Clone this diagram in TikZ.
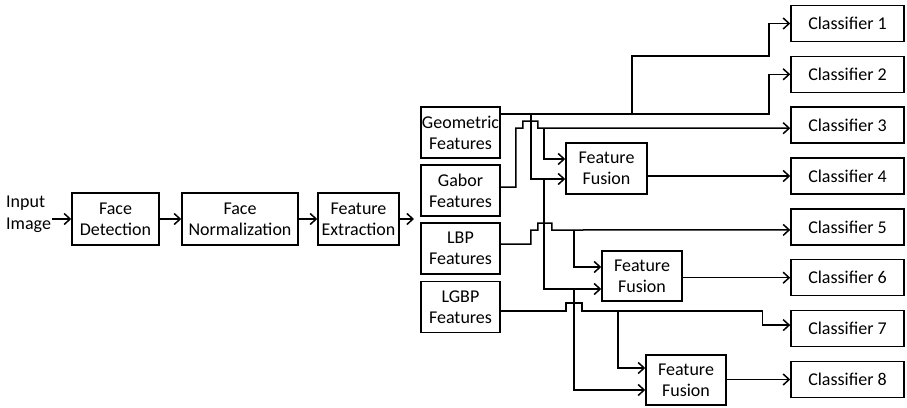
\documentclass[tikz,border=0pt]{standalone}
\usepackage{fontspec}
\setmainfont{Carlito}
\usepackage{tikz}
\usetikzlibrary{arrows.meta, positioning, calc}

\tikzset{
  block/.style={
    draw, line width=1.5pt, inner sep=0pt,
    minimum height=51pt, align=center,
    font=\fontsize{18}{21}\selectfont
  },
  stagebox/.style={block, minimum height=52pt},
  featbox/.style ={block, minimum width=79pt},
  fusebox/.style ={block, minimum width=80pt, minimum height=50pt},
  clsbox/.style  ={block, minimum width=113pt, minimum height=36pt},
  conn/.style={
    -{Straight Barb[length=6pt,width=11pt]},
    line width=1.5pt
  }
}

\begin{document}
\begin{tikzpicture}[x=1pt, y=-1pt]
  \useasboundingbox (0,0) rectangle (907,407);
  % preprocessing chain
  \node[font=\fontsize{18}{22}\selectfont, align=left, inner sep=1pt, anchor=west]
    (in) at (5,214) {Input\\Image};
  \node[stagebox, minimum width=87pt]  (fd) at (115.5,219) {Face\\Detection};
  \node[stagebox, minimum width=116pt] (fn) at (240,219)   {Face\\Normalization};
  \node[stagebox, minimum width=81pt]  (fe) at (358.5,219) {Feature\\Extraction};
  \coordinate (fanout) at (414,219);
  % feature sets
  \node[featbox] (geo)  at (460.5,132.5) {Geometric\\Features};
  \node[featbox] (gab)  at (460.5,190.5) {Gabor\\Features};
  \node[featbox] (lbp)  at (460.5,248.5) {LBP\\Features};
  \node[featbox] (lgbp) at (460.5,307)   {LGBP\\Features};
  % fusion blocks
  \node[fusebox, minimum width=81pt, minimum height=51pt] (ff1) at (606.5,168.5) {Feature\\Fusion};
  \node[fusebox] (ff2) at (642,276) {Feature\\Fusion};
  \node[fusebox] (ff3) at (686,380) {Feature\\Fusion};
  % classifiers
  \node[clsbox] (c1) at (847.5,23.5)  {Classifier 1};
  \node[clsbox] (c2) at (847.5,74.3)  {Classifier 2};
  \node[clsbox] (c3) at (847.5,125.2) {Classifier 3};
  \node[clsbox] (c4) at (847.5,176)   {Classifier 4};
  \node[clsbox] (c5) at (847.5,226.9) {Classifier 5};
  \node[clsbox] (c6) at (847.5,277.7) {Classifier 6};
  \node[clsbox] (c7) at (847.5,328.6) {Classifier 7};
  \node[clsbox] (c8) at (847.5,379.5) {Classifier 8};

  \draw[conn] (in.east |- fd) -- (fd);
  \draw[conn] (fd) -- (fn);
  \draw[conn] (fn) -- (fe);
  \draw[conn] (fe) -- (fanout);

  % geometric features
  \draw[conn] ([yshift=18.5pt]geo.east) -- ++(30,0) coordinate (geoa)
    -- ++(101,0) coordinate (geob) -- ++(137,0) |- (c2);
  \draw[conn] (geob) |- ++(137,-58) |- (c1);
  \draw[conn] (geoa) -- ++(0,65) -- ++(13,0) coordinate (geoc)
    -- ([yshift=-10.5pt]ff1.west);
  \draw[conn] (geoc) -- ++(0,110) -- ++(30,0) coordinate (geod)
    -- ([yshift=-13pt]ff2.west);
  \draw[conn] (geod) |- ([yshift=-10pt]ff3.west);

  % gabor features
  \draw[conn] ([yshift=3.5pt]gab.east) -- ++(15,0) |- ++(7,-59)
    -- ++(0,-7) -- ++(15,0) -- ++(0,7) -- ++(6,0) coordinate (gabj)
    -- ([yshift=-3pt]c3.west);
  \draw[conn] (gabj) |- ([yshift=9.5pt]ff1.west);

  % lbp features
  \draw[conn] ([yshift=4.5pt]lbp.east) -- ++(30,0) |- ++(7,-14)
    -- ++(0,-7) -- ++(14,0) -- ++(0,7) -- ++(22,0) coordinate (lbpj)
    -- ([yshift=-3pt]c5.west);
  \draw[conn] (lbpj) |- ([yshift=9pt]ff2.west);

  % lgbp features
  \draw[conn] ([yshift=-4pt]lgbp.east) -- ++(65,0)
    -- ++(0,-8) -- ++(16,0) -- ++(0,8) -- ++(36,0) coordinate (lgbpj)
    -| ([xshift=-28pt,yshift=3.5pt]c7.west) -- ([yshift=3.5pt]c7.west);
  \draw[conn] (lgbpj) |- ([yshift=12pt]ff3.west);

  % fused outputs
  \draw[conn] (ff1.east |- c4) -- (c4);
  \draw[conn] (ff2.east |- c6) -- (c6);
  \draw[conn] (ff3.east |- c8) -- (c8);
\end{tikzpicture}
\end{document}
